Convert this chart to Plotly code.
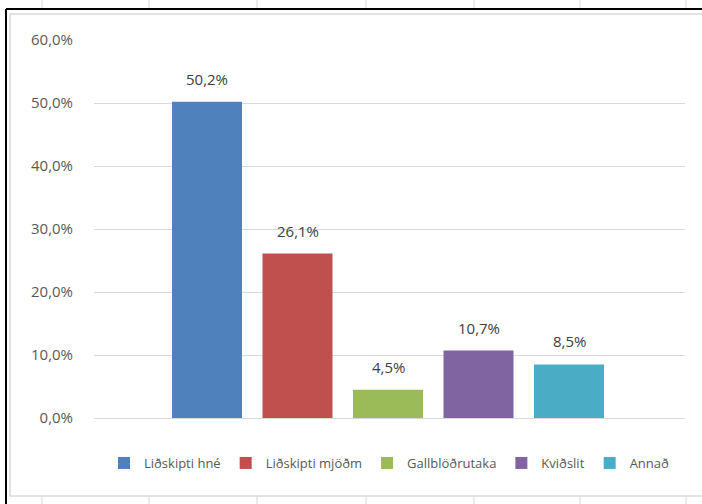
import plotly.graph_objects as go

# ── 数据 ──
series = ["Liðskipti hné", "Liðskipti mjöðm", "Gallblöðrutaka", "Kviðslit", "Annað"]
values = [0.502, 0.261, 0.045, 0.107, 0.085]
colors = ["#4F81BD", "#C0504D", "#9BBB59", "#8064A2", "#4BACC6"]

W, H = 702, 504
L, R, T, B = 94, 17, 40, 86
pw, ph = W - L - R, H - T - B
PITCH = 90.5  # 每个柱子占的像素


def px(x):
    return (x - L) / pw


def py(y):
    return (H - B - y) / ph


fig = go.Figure()

for name, v, c in zip(series, values, colors):
    fig.add_trace(go.Bar(
        x=[name],
        y=[v],
        name=name,
        width=70 / PITCH,
        marker=dict(color=c, line=dict(width=0)),
        hoverinfo="name+y",
    ))

# 数据标签
annotations = [
    dict(x=name, y=v, text=f"{v * 100:.1f}%".replace(".", ","),
         showarrow=False, yanchor="bottom", yshift=11,
         font=dict(size=15, color="#404040"))
    for name, v in zip(series, values)
]

# ── 边框和表格线 ──
shapes = []
for cx in [42, 149, 257, 366, 474, 580, 686]:
    shapes.append(dict(type="line", xref="paper", yref="paper",
                       x0=px(cx), x1=px(cx), y0=py(0), y1=py(9),
                       line=dict(color="#d9d9d9", width=1)))
    shapes.append(dict(type="line", xref="paper", yref="paper",
                       x0=px(cx), x1=px(cx), y0=py(497), y1=py(504),
                       line=dict(color="#d9d9d9", width=1)))
# 图表内框（浅灰）
shapes.append(dict(type="rect", xref="paper", yref="paper",
                   x0=px(10), x1=px(710), y0=py(496), y1=py(14),
                   line=dict(color="#d9d9d9", width=1.5)))
# 外框（黑）
shapes.append(dict(type="line", xref="paper", yref="paper",
                   x0=px(6), x1=px(710), y0=py(9), y1=py(9),
                   line=dict(color="#000000", width=2)))
shapes.append(dict(type="line", xref="paper", yref="paper",
                   x0=px(6), x1=px(6), y0=py(9), y1=py(510),
                   line=dict(color="#000000", width=2)))

left = -(207 - L) / PITCH
fig.update_layout(
    width=W,
    height=H,
    paper_bgcolor="white",
    plot_bgcolor="white",
    font=dict(family="Open Sans, Liberation Sans, sans-serif", color="#595959"),
    margin=dict(l=L, r=R, t=T, b=B),
    barmode="overlay",
    separators=",.",
    xaxis=dict(showticklabels=False, showgrid=False, zeroline=False,
               showline=True, linecolor="#d9d9d9", linewidth=1,
               range=[left, left + pw / PITCH], categoryorder="array",
               categoryarray=series, fixedrange=True),
    yaxis=dict(
        range=[0, 0.6],
        dtick=0.1,
        tickformat=".1%",
        tickfont=dict(size=15, color="#595959"),
        gridcolor="#d9d9d9",
        gridwidth=1,
        zeroline=False,
        showline=False,
        ticks="",
        ticklabelstandoff=20,
        fixedrange=True,
    ),
    legend=dict(
        orientation="h",
        x=0.5,
        xanchor="center",
        y=py(463),
        yanchor="middle",
        font=dict(size=13, color="#595959"),
        itemwidth=30,
        tracegroupgap=0,
    ),
    annotations=annotations,
    shapes=shapes,
)

fig.write_html("out.html", config={"displayModeBar": False},
               post_script="document.body.style.margin='0';")
